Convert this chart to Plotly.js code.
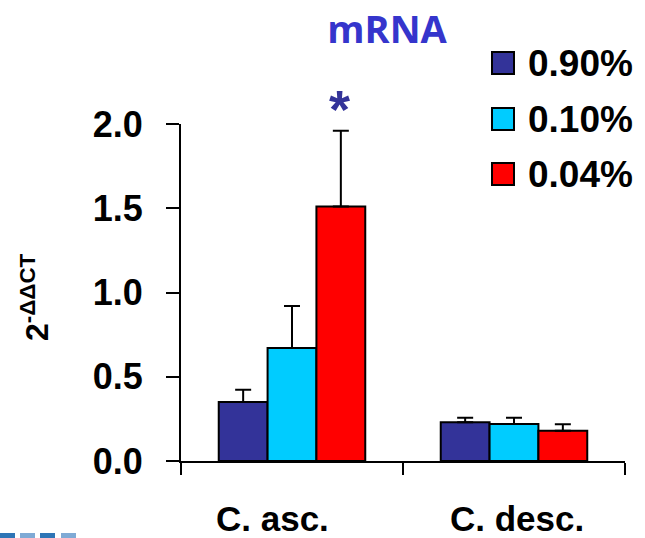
<!DOCTYPE html>
<html>
<head>
<meta charset="utf-8">
<script src="https://cdn.plot.ly/plotly-3.0.1.min.js"></script>
<style>html,body{margin:0;padding:0;background:#fff;}#chart{width:645px;height:538px;}</style>
</head>
<body>
<div id="chart"></div>
<script>
// ---- data ----
const categories = ['C. asc.', 'C. desc.'];
const seriesNames = ['0.90%', '0.10%', '0.04%'];
const val090 = [0.35, 0.23];
const val010 = [0.67, 0.22];
const val004 = [1.51, 0.18];
const err090 = [0.073, 0.027];
const err010 = [0.25, 0.037];
const err004 = [0.45, 0.038];
const yTickVals = [0, 0.5, 1.0, 1.5, 2.0];
const yTickText = ['0.0', '0.5', '1.0', '1.5', '2.0'];
const titleText = 'mRNA';
const yTitle = '2<sup>-ΔΔCT</sup>';
const sigMark = '*';

// ---- style ----
const colors = ['#333399', '#00ccff', '#ff0000'];
const W = 645, H = 538;
const M = {l: 181, r: 20, t: 124, b: 77};
const pw = W - M.l - M.r, ph = H - M.t - M.b;
const px = x => (x - M.l) / pw;
const py = y => (H - M.b - y) / ph;
const font = 'Liberation Sans, Arial, Helvetica, sans-serif';

const vals = [val090, val010, val004];
const errs = [err090, err010, err004];

const traces = vals.map((v, i) => ({
  type: 'bar',
  name: seriesNames[i],
  x: categories,
  y: v,
  marker: {color: colors[i], line: {color: '#000', width: 2}},
  error_y: {type: 'data', array: errs[i], arrayminus: errs[i].map(() => 0), symmetric: false,
            color: '#000', thickness: 2, width: 8},
  showlegend: false,
  hoverinfo: 'x+y'
}));

const shapes = [];
const annotations = [];

// custom legend
const legRows = [63, 119, 174];
seriesNames.forEach((n, i) => {
  const cy = legRows[i];
  shapes.push({type: 'rect', xref: 'paper', yref: 'paper',
    x0: px(492), x1: px(514), y0: py(cy + 11), y1: py(cy - 11),
    fillcolor: colors[i], line: {color: '#000', width: 2}});
  annotations.push({xref: 'paper', yref: 'paper', x: px(526), y: py(cy), xanchor: 'left', yanchor: 'middle',
    text: n, showarrow: false, font: {family: font, size: 37, weight: 'bold', color: '#000'}});
});

// category labels
const catShift = [-20, 3];
categories.forEach((c, i) => {
  annotations.push({xref: 'x', yref: 'paper', x: c, y: 0, yanchor: 'middle', xanchor: 'center',
    yshift: -57, xshift: catShift[i], text: c, showarrow: false,
    font: {family: font, size: 35, weight: 'bold', color: '#000'}});
});

// y-axis title
annotations.push({xref: 'paper', yref: 'paper', x: px(35), y: py(297), xanchor: 'center', yanchor: 'middle',
  textangle: -90, text: yTitle, showarrow: false,
  font: {family: font, size: 32, weight: 'bold', color: '#000'}});

// significance mark over 0.04% bar of C. asc.
annotations.push({xref: 'x', yref: 'y', x: categories[0], y: val004[0] + err004[0],
  xshift: 47, yshift: -10, yanchor: 'bottom', text: sigMark, showarrow: false,
  font: {family: font, size: 54, weight: 'bold', color: '#333399'}});

// bottom decoration
const deco = [[0, 15, '#2e75b6'], [20, 35, '#7faad5'], [40, 55, '#2e75b6'], [61, 76, '#7faad5']];
deco.forEach(d => shapes.push({type: 'rect', xref: 'paper', yref: 'paper',
  x0: px(d[0]), x1: px(d[1]), y0: py(538), y1: py(533), fillcolor: d[2], line: {width: 0}}));

const layout = {
  width: W, height: H,
  margin: M,
  paper_bgcolor: '#fff', plot_bgcolor: '#fff',
  barmode: 'group', bargap: 0.34, bargroupgap: 0,
  title: {text: titleText, x: px(387), xref: 'paper', xanchor: 'center', y: 1 - 30 / H, yanchor: 'middle',
          font: {family: 'Comic Sans MS, Open Sans, sans-serif', size: 38, weight: 'bold', color: '#3535cc'}},
  xaxis: {type: 'category', range: [-0.5, 1.5], showline: true, linewidth: 2, linecolor: '#000',
          ticks: 'outside', tickson: 'boundaries', ticklen: 12, tickwidth: 2, tickcolor: '#000',
          showticklabels: false, showgrid: false, zeroline: false, fixedrange: true},
  yaxis: {range: [0, 2.0], tickmode: 'array', tickvals: yTickVals, ticktext: yTickText,
          showline: true, linewidth: 2, linecolor: '#000', ticks: 'outside', ticklen: 13, tickwidth: 2,
          tickcolor: '#000', showgrid: false, zeroline: false, ticklabelstandoff: 16,
          tickfont: {family: font, size: 36, weight: 'bold', color: '#000'},
          fixedrange: true},
  shapes: shapes,
  annotations: annotations,
  showlegend: false
};

Plotly.newPlot('chart', traces, layout, {displayModeBar: false, staticPlot: true});
</script>
</body>
</html>
